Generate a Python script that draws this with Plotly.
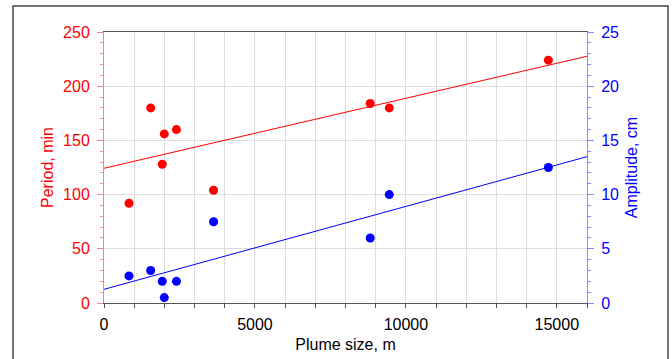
import plotly.graph_objects as go

# ---- data ----
plume_size = [828, 1546, 1930, 1997, 2400, 3630, 8820, 9450, 14720]
period_min = [92, 180, 128, 156, 160, 104, 184, 180, 224]
amplitude_cm = [2.5, 3.0, 2.0, 0.5, 2.0, 7.5, 6.0, 10.0, 12.5]

trend_x = [0, 16000]
period_trend = [124.3, 227.6]
amplitude_trend = [1.26, 13.5]

x_ticks = [0, 5000, 10000, 15000]
x_tick_labels = ["0", "5000", "10000", "15000"]
period_ticks = [0, 50, 100, 150, 200, 250]
amp_ticks = [0, 5, 10, 15, 20, 25]

RED = "#ff0000"
BLUE = "#0000ff"
FONT = "Liberation Sans, Arial, Helvetica, sans-serif"

fig = go.Figure()
fig.add_trace(go.Scatter(x=trend_x, y=period_trend, mode="lines",
                         line=dict(color=RED, width=1), yaxis="y", showlegend=False,
                         hoverinfo="skip"))
fig.add_trace(go.Scatter(x=trend_x, y=amplitude_trend, mode="lines",
                         line=dict(color=BLUE, width=1), yaxis="y2", showlegend=False,
                         hoverinfo="skip"))
fig.add_trace(go.Scatter(x=plume_size, y=period_min, mode="markers",
                         marker=dict(color=RED, size=9), yaxis="y", showlegend=False,
                         cliponaxis=False))
fig.add_trace(go.Scatter(x=plume_size, y=amplitude_cm, mode="markers",
                         marker=dict(color=BLUE, size=9), yaxis="y2", showlegend=False,
                         cliponaxis=False))

fig.update_layout(
    width=672, height=359,
    margin=dict(l=104, r=85, t=32, b=56, autoexpand=False),
    paper_bgcolor="white", plot_bgcolor="white",
    font=dict(family=FONT, size=16, color="black"),
    xaxis=dict(
        range=[0, 16000], tickvals=x_ticks, ticktext=x_tick_labels,
        ticks="outside", ticklen=4, tickcolor="#555", tickwidth=1,
        showline=True, linecolor="#555", linewidth=1, mirror=True,
        showgrid=True, gridcolor="#dddddd", gridwidth=1, zeroline=False,
        tickfont=dict(size=16, color="black"), ticklabelstandoff=3, automargin=False,
        minor=dict(dtick=1000, ticks="outside", ticklen=4, tickcolor="#555",
                   showgrid=True, gridcolor="#dddddd", gridwidth=1),
        title=dict(text="Plume size, m", font=dict(size=16, color="black"), standoff=6),
    ),
    yaxis=dict(
        range=[0, 250], tickvals=period_ticks, ticks="outside", ticklen=6,
        tickcolor="#f08a8a", showline=True, linecolor="#f08a8a", linewidth=1,
        showgrid=True, gridcolor="#dddddd", zeroline=False, automargin=False,
        tickfont=dict(size=16, color=RED), ticklabelstandoff=4,
        minor=dict(dtick=10, ticks="outside", ticklen=3, tickcolor="#f08a8a", showgrid=False),
        title=dict(text="Period, min", font=dict(size=16, color=RED), standoff=5),
    ),
    yaxis2=dict(
        range=[0, 25], tickvals=amp_ticks, ticks="outside", ticklen=6,
        tickcolor="#8a8aff", showline=True, linecolor="#8a8aff", linewidth=1,
        overlaying="y", side="right", showgrid=False, zeroline=False, automargin=False,
        tickfont=dict(size=16, color=BLUE), ticklabelstandoff=4,
        minor=dict(dtick=1, ticks="outside", ticklen=3, tickcolor="#8a8aff", showgrid=False),
        title=dict(text="Amplitude, cm", font=dict(size=16, color=BLUE), standoff=7),
    ),
    shapes=[dict(type="rect", xref="paper", yref="paper",
                 x0=(13 - 104) / 483, x1=(668 - 104) / 483,
                 y0=-0.3, y1=(303 - 6) / 271,
                 line=dict(color="#444444", width=1.5), fillcolor="rgba(0,0,0,0)",
                 layer="below")],
)

fig.write_html("out.html")
